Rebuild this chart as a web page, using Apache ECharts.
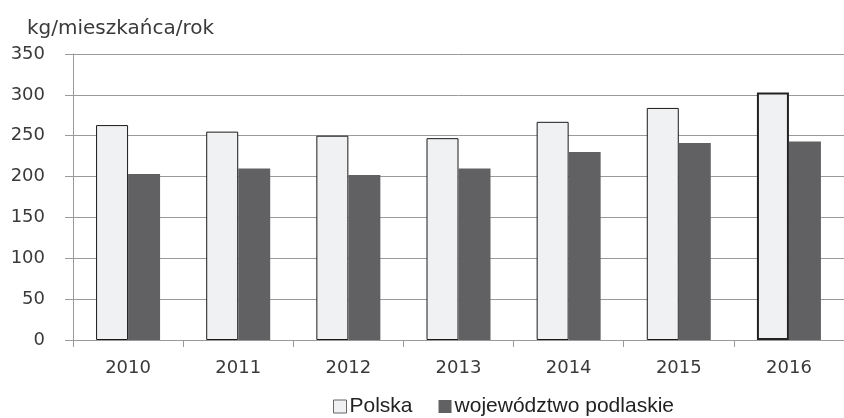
<!DOCTYPE html>
<html>
<head>
<meta charset="utf-8">
<script src="https://cdn.jsdelivr.net/npm/echarts@6/dist/echarts.min.js"></script>
<style>html,body{margin:0;padding:0;background:#fff}#c{width:844px;height:418px}</style>
</head>
<body>
<div id="c"></div>
<script>
const categories = ['2010', '2011', '2012', '2013', '2014', '2015', '2016'];
const polska = [263, 255, 250, 247, 267, 284, 303];
const podlaskie = [203, 210, 202, 210, 230, 241, 243];
const yTicks = { min: 0, max: 350, interval: 50 };
const unitLabel = 'kg/mieszkańca/rok';
const seriesNames = ['Polska', 'województwo podlaskie'];

const chart = echarts.init(document.getElementById('c'), null, { renderer: 'canvas' });
const gridColor = '#9a9a9a';
chart.setOption({
  animation: false,
  title: {
    text: unitLabel, left: 22, top: 14,
    textStyle: { fontFamily: 'DejaVu Sans', fontSize: 20, fontWeight: 'normal', color: '#3a3a3a' }
  },
  legend: {
    left: 333, top: 396, itemWidth: 13, itemHeight: 13, itemGap: 26,
    icon: 'rect', padding: 0,
    textStyle: { fontFamily: 'Liberation Sans', fontSize: 21, color: '#222', padding: [0, 0, 0, -2] },
    data: [
      { name: seriesNames[0], itemStyle: { color: '#f0f1f3', borderColor: '#666', borderWidth: 1 } },
      { name: seriesNames[1], itemStyle: { color: '#616163', borderWidth: 0 } }
    ]
  },
  grid: { left: 73, right: -8, top: 54, bottom: 78 },
  xAxis: {
    type: 'category', data: categories, boundaryGap: true,
    axisLine: { lineStyle: { color: gridColor, width: 1 } },
    axisTick: { show: true, length: 7, interval: 0, lineStyle: { color: gridColor } },
    axisLabel: { margin: 19, fontFamily: 'DejaVu Sans', fontSize: 18, color: '#3a3a3a' },
    splitLine: { show: false }
  },
  yAxis: {
    type: 'value', min: yTicks.min, max: yTicks.max, interval: yTicks.interval,
    axisLine: { show: true, lineStyle: { color: gridColor, width: 1 } },
    axisTick: { show: true, length: 8, lineStyle: { color: gridColor } },
    axisLabel: { margin: 28, fontFamily: 'DejaVu Sans', fontSize: 18, color: '#3a3a3a' },
    splitLine: { show: true, lineStyle: { color: gridColor, width: 1 } }
  },
  series: [
    {
      name: seriesNames[0], type: 'bar', barWidth: 32, barGap: '0%',
      itemStyle: { color: '#f0f1f3', borderColor: '#1a1a1a', borderWidth: 1 },
      data: polska.map((v, i) => i === polska.length - 1
        ? { value: v, itemStyle: { borderWidth: 2, borderColor: '#222' } }
        : v)
    },
    {
      name: seriesNames[1], type: 'bar', barWidth: 32, barGap: '0%',
      itemStyle: { color: '#616163' },
      data: podlaskie
    }
  ]
});
</script>
</body>
</html>
